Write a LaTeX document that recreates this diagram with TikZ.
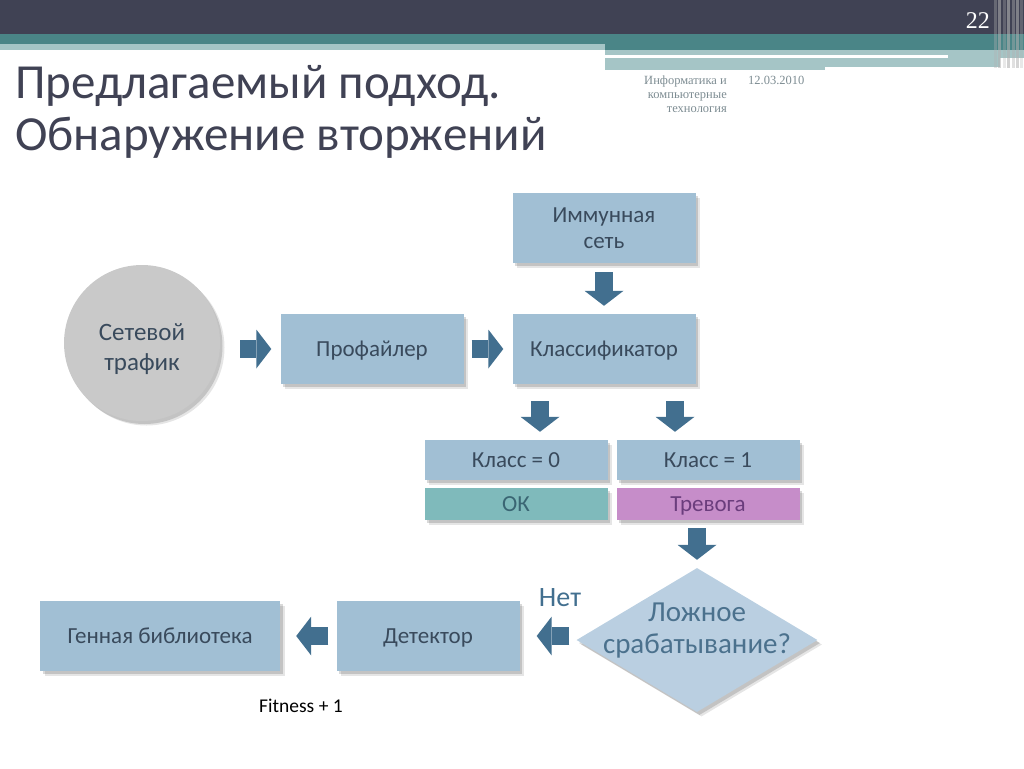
\documentclass[tikz,border=0pt]{standalone}
\usepackage{fontspec}
\setmainfont{Carlito}
\newfontfamily\hdrfont{Liberation Serif}
\usetikzlibrary{shapes.geometric,arrows.meta}

\definecolor{darkband}{HTML}{404254}
\definecolor{tealband}{HTML}{4A8587}
\definecolor{lightband}{HTML}{A5C5C6}
\definecolor{boxblue}{HTML}{A1BFD4}
\definecolor{boxtext}{HTML}{394A5C}
\definecolor{arrowblue}{HTML}{426F8F}
\definecolor{okteal}{HTML}{7FBABB}
\definecolor{oktext}{HTML}{3A6573}
\definecolor{alarmpink}{HTML}{C68DC9}
\definecolor{alarmtext}{HTML}{6B3D7D}
\definecolor{diamondfill}{HTML}{BACFE1}
\definecolor{circlegray}{HTML}{C9C9C9}
\definecolor{hdrgray}{HTML}{7D8C92}

\tikzset{
  shade3/.style={preaction={fill=black, opacity=.1, transform canvas={shift={(4.5pt,-4.5pt)}}},
    preaction={fill=black, opacity=.15, transform canvas={shift={(2.5pt,-3pt)}}}},
  box/.style={fill=boxblue, minimum width=183pt, minimum height=70pt, inner sep=0pt,
    font=\fontsize{23}{26}\selectfont, text=boxtext, align=center, text depth=0pt, shade3},
  smallbox/.style={box, minimum height=40pt},
  flagbox/.style={box, minimum height=32pt},
  barrow/.style={draw=arrowblue, line width=18pt,
    -{Triangle[length=15pt, width=39pt, line width=0pt]}},
}

\begin{document}
\begin{tikzpicture}[x=1pt,y=-1pt]
  \useasboundingbox (0,0) rectangle (1024,768);

  % header bands
  \fill[darkband] (0,0) rectangle (1024,34);
  \fill[tealband] (0,34) rectangle (1024,44);
  \fill[tealband] (605,44) rectangle (1024,50);
  \fill[lightband] (0,44) rectangle (605,50);
  \fill[lightband] (605,50) rectangle (1024,55);
  \fill[white] (0,55) rectangle (948,58);
  \fill[lightband] (948,55) rectangle (1024,58);
  \fill[lightband] (605,58) rectangle (825,70);
  \fill[lightband] (825,58) rectangle (1000,67);
  \foreach \x/\o in {994/.35, 998/.55, 1003/.3, 1007/.6, 1012/.4, 1016/.55, 1020/.3}
    \fill[gray!60, opacity=\o] (\x,0) rectangle (\x+2.5,68);

  \node[font=\hdrfont\fontsize{24}{24}\selectfont, text=white, anchor=base east, inner sep=0pt] (pageno) at (990,29) {22};
  \node[font=\hdrfont\fontsize{12.5}{14}\selectfont, text=hdrgray, align=right, anchor=north east, inner sep=0pt] (subject) at (727,76) {Информатика и\\компьютерные\\технология};
  \node[font=\hdrfont\fontsize{12.5}{14}\selectfont, text=hdrgray, anchor=north west, inner sep=0pt] (date) at (748,76) {12.03.2010};

  % title
  \node[font=\fontsize{49}{52}\selectfont, text=darkband, anchor=base west, inner sep=0pt] (title1) at (15,98) {Предлагаемый подход.};
  \node[font=\fontsize{49}{52}\selectfont, text=darkband, anchor=base west, inner sep=0pt] (title2) at (15,150) {Обнаружение вторжений};

  % blocks
  \node[circle, fill=circlegray, minimum size=156pt, inner sep=0pt, shade3] (traffic) at (142,343) {};
  \node[font=\fontsize{25}{30}\selectfont, text=boxtext, align=center] (traffictext) at ([yshift=-6pt]traffic.center) {Сетевой\\трафик};
  \node[box] (immune) at (604,228) {Иммунная\\сеть};
  \node[box] (profiler) at (372,349) {Профайлер};
  \node[box] (classifier) at (604,349) {Классификатор};
  \node[smallbox] (class0) at (516,460) {Класс = 0};
  \node[smallbox] (class1) at (708,460) {Класс = 1};
  \node[flagbox, fill=okteal, text=oktext] (ok) at (516,504) {ОК};
  \node[flagbox, fill=alarmpink, text=alarmtext] (alarm) at (708,504) {Тревога};
  \node[diamond, fill=diamondfill, minimum width=241pt, minimum height=144pt, inner sep=0pt, shade3] (falsepos) at (697,640) {};
  \node[font=\fontsize{29}{32}\selectfont, text=arrowblue!85!gray, align=center] (fptext) at (697,631) {Ложное\\срабатывание?};
  \node[box] (detector) at (428,636) {Детектор};
  \node[box, minimum width=240pt] (genlib) at (160,636) {Генная библиотека};

  \node[font=\fontsize{28}{30}\selectfont, text=arrowblue] (no) at (560,598) {Нет};
  \node[font=\fontsize{19.5}{22}\selectfont] (fitness) at (301,706) {Fitness + 1};

  % block arrows
  \coordinate (k0in) at ([xshift=24pt]class0.north);
  \coordinate (k1in) at ([xshift=-33pt]class1.north);
  \draw[barrow, shorten <=20pt, shorten >=9pt] (traffic.east |- profiler.west) -- (profiler.west);
  \draw[barrow, shorten <=8pt, shorten >=9pt] (profiler.east) -- (classifier.west);
  \draw[barrow, shorten <=9pt, shorten >=8pt] (immune.south) -- (classifier.north);
  \draw[barrow, shorten <=17pt, shorten >=8pt] (classifier.south -| k0in) -- (k0in);
  \draw[barrow, shorten <=17pt, shorten >=8pt] (classifier.south -| k1in) -- (k1in);
  \draw[barrow, shorten <=8pt, shorten >=8pt] (alarm.south -| falsepos.north) -- (falsepos.north);
  \draw[barrow, shorten <=7pt, shorten >=17pt] (detector.east -| falsepos.west) -- (detector.east);
  \draw[barrow, shorten <=8pt, shorten >=16pt] (detector.west) -- (genlib.east);
\end{tikzpicture}
\end{document}
